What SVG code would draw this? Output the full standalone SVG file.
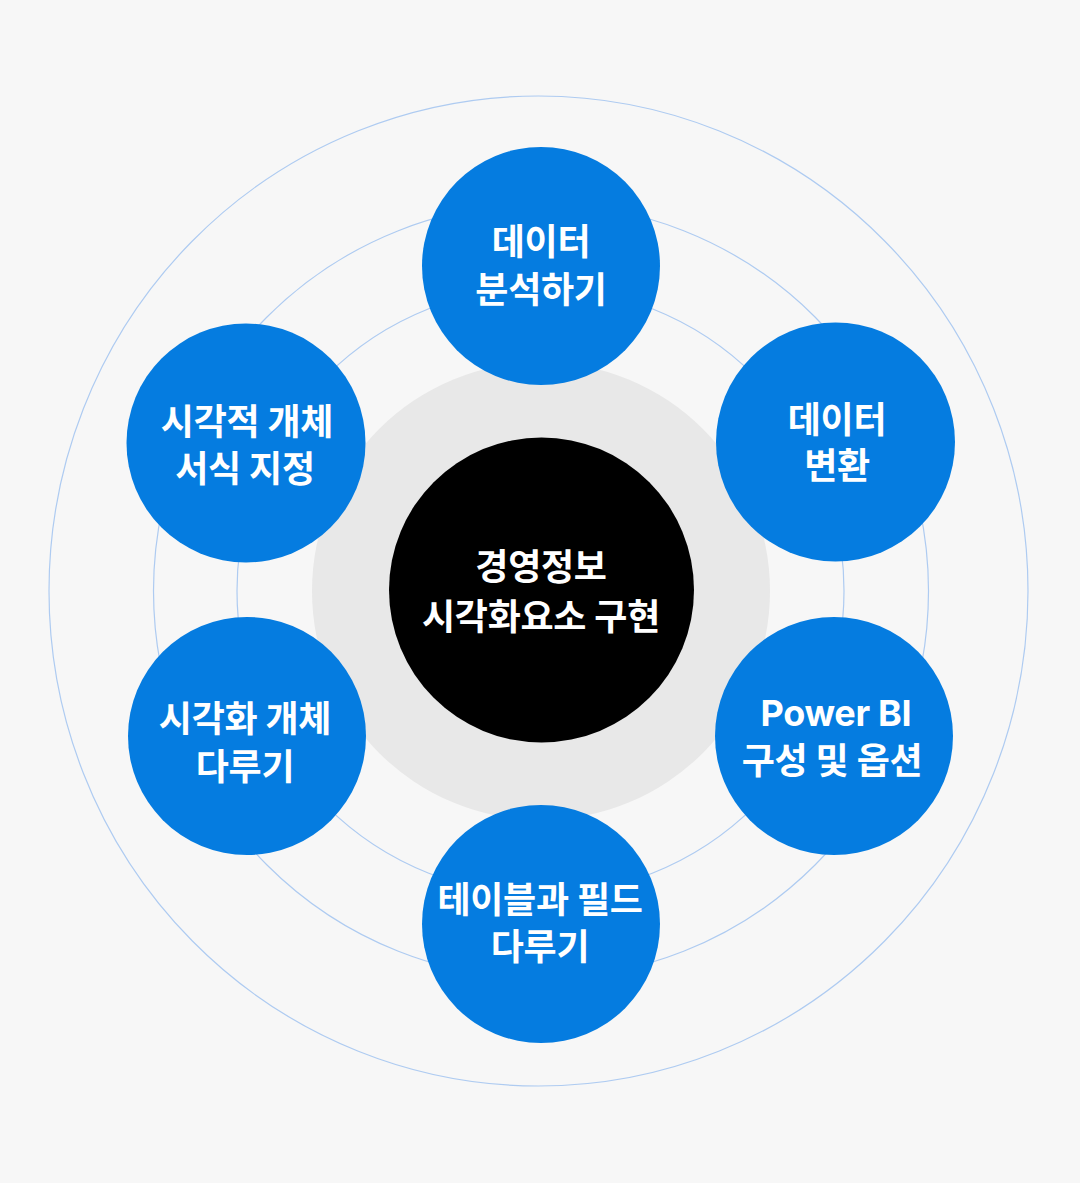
<svg xmlns="http://www.w3.org/2000/svg" width="1080" height="1183" viewBox="0 0 1080 1183">
  <style>
    .ring { fill: none; stroke: #aecbf1; stroke-width: 1.2; }
    .node { fill: #057ce0; }
    .lbl { font-family: "Inter", "Noto Sans CJK KR", sans-serif; font-weight: 700; font-size: 36px; fill: #ffffff; text-anchor: middle; dominant-baseline: central; letter-spacing: -0.3px; }
    .ctr { font-size: 36px; }
  </style>
  <rect width="1080" height="1183" fill="#f7f7f7"/>
  <g id="rings">
    <ellipse class="ring" cx="538.5" cy="591" rx="489.5" ry="495"/>
    <circle class="ring" cx="541" cy="591" r="387.5"/>
    <circle class="ring" cx="540.5" cy="591" r="303.5"/>
  </g>
  <g id="halo">
    <circle cx="541" cy="591" r="229" fill="#e8e8e8"/>
  </g>
  <g id="center">
    <circle cx="541.5" cy="590" r="152.5" fill="#000000"/>
    <text class="lbl ctr" x="541" y="567">경영정보</text>
    <text class="lbl ctr" x="541" y="617">시각화요소 구현</text>
  </g>
  <g id="node-top">
    <circle class="node" cx="541" cy="266" r="119"/>
    <text class="lbl" x="541" y="242">데이터</text>
    <text class="lbl" x="541" y="290">분석하기</text>
  </g>
  <g id="node-right-upper">
    <circle class="node" cx="835.5" cy="442" r="119.5"/>
    <text class="lbl" x="837" y="420">데이터</text>
    <text class="lbl" x="837" y="466">변환</text>
  </g>
  <g id="node-right-lower">
    <circle class="node" cx="834" cy="736" r="119"/>
    <text class="lbl" x="836" y="713">Power BI</text>
    <text class="lbl" x="832" y="761">구성 및 옵션</text>
  </g>
  <g id="node-bottom">
    <circle class="node" cx="541" cy="924" r="119"/>
    <text class="lbl" x="540" y="900">테이블과 필드</text>
    <text class="lbl" x="540" y="947">다루기</text>
  </g>
  <g id="node-left-lower">
    <circle class="node" cx="247" cy="736" r="119"/>
    <text class="lbl" x="245" y="719">시각화 개체</text>
    <text class="lbl" x="245" y="767">다루기</text>
  </g>
  <g id="node-left-upper">
    <circle class="node" cx="246" cy="443" r="119.5"/>
    <text class="lbl" x="247" y="422">시각적 개체</text>
    <text class="lbl" x="245" y="469">서식 지정</text>
  </g>
</svg>
